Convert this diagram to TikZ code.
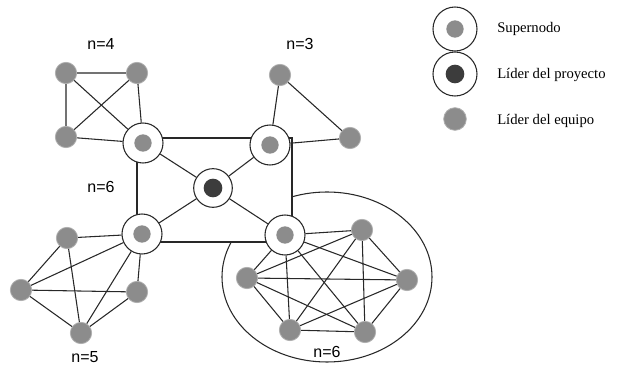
\documentclass[tikz,border=0pt]{standalone}
\usepackage{fontspec}
\setmainfont{Liberation Serif}
\setsansfont{Liberation Sans}
\usepackage{tikz}
\usetikzlibrary{calc}

\definecolor{nodegray}{RGB}{140,140,140}
\definecolor{darkcore}{RGB}{60,60,60}
\definecolor{edgegray}{RGB}{40,40,40}

\tikzset{
  member/.style={circle,fill=nodegray,draw=nodegray!70,line width=0.6pt,minimum size=16pt,inner sep=0pt},
  supernode/.style={circle,draw=edgegray,fill=white,line width=0.8pt,minimum size=30pt,inner sep=0pt,
    path picture={\fill[nodegray] (path picture bounding box.center) circle (6.5pt);}},
  leader/.style={circle,draw=edgegray,fill=white,line width=0.8pt,minimum size=29pt,inner sep=0pt,
    path picture={\fill[darkcore] (path picture bounding box.center) circle (7pt);}},
  link/.style={draw=edgegray,line width=0.8pt},
  grouplabel/.style={font=\sffamily\fontsize{12}{14}\selectfont,inner sep=0.75pt},
  legendtext/.style={font=\fontsize{11}{13}\selectfont,anchor=west,inner sep=0.75pt}
}

\begin{document}
\begin{tikzpicture}[x=0.75pt,y=0.75pt,yscale=-1,xscale=1]
            \useasboundingbox (0,0) rectangle (629,373);

            %Shape: Ellipse round the group of six
            \draw [link] (327,277) ellipse (105 and 85);

            %Shape: Square between the supernodes
            \coordinate (tl) at (137,138);
            \coordinate (br) at (292,242);
            \filldraw [link,fill=white] (tl) rectangle (br);

            % supernodes and leader
            \node [supernode] (s1) at (143,143) {};
            \node [supernode] (s2) at (270,145) {};
            \node [supernode] (s3) at (142,234) {};
            \node [supernode] (s4) at (285,235) {};
            \node [leader] (c) at (213,188) {};
            \draw [link] (c) -- (s1) (c) -- (s2) (c) -- (s3) (c) -- (s4);

            % group n=4
            \node [member] (a1) at (66,73) {};
            \node [member] (a2) at (137,73) {};
            \node [member] (a3) at (66,137) {};
            \draw [link] (a1) -- (a2) (a1) -- (a3) (a2) -- (s1) (a3) -- (s1) (a1) -- (s1) (a2) -- (a3);

            % group n=3
            \node [member] (b1) at (280,75) {};
            \node [member] (b2) at (350,138) {};
            \draw [link] (b1) -- (s2) (b1) -- (b2) (s2) -- (b2);

            % group n=5
            \node [member] (d1) at (67,238) {};
            \node [member] (d2) at (21,290) {};
            \node [member] (d3) at (137,292) {};
            \node [member] (d4) at (81,333) {};
            \draw [link] (d1) -- (s3) (d1) -- (d2) (d1) -- (d4);
            \draw [link] (d2) -- (s3) (d2) -- (d3) (d2) -- (d4);
            \draw [link] (s3) -- (d3) (s3) -- (d4) (d3) -- (d4);

            % group n=6
            \node [member] (e1) at (362,230) {};
            \node [member] (e2) at (247,278) {};
            \node [member] (e3) at (407,280) {};
            \node [member] (e4) at (290,330) {};
            \node [member] (e5) at (365,332) {};
            \foreach \u/\v in {s4/e1,s4/e2,s4/e3,s4/e4,s4/e5,e1/e2,e1/e3,e1/e4,e1/e5,e2/e3,e2/e4,e2/e5,e3/e4,e3/e5,e4/e5}
              \draw [link] (\u) -- (\v);

            % Text Node
            \node [grouplabel] (t4) at (101,44) {n=4};
            % Text Node
            \node [grouplabel] (t3) at (300,44) {n=3};
            % Text Node
            \node [grouplabel] (t6a) at (101,187) {n=6};
            % Text Node
            \node [grouplabel] (t5) at (85,357) {n=5};
            % Text Node
            \node [grouplabel] (t6b) at (327,352) {n=6};

            % legend
            \node [supernode,minimum size=33pt] (ls) at (455,29) {};
            \node [leader,minimum size=33pt] (ll) at (455,74) {};
            \node [member,minimum size=17pt] (lm) at (455,119) {};
            \node [legendtext] (lst) at (496,29) {Supernodo};
            \node [legendtext] (llt) at (496,75) {Líder del proyecto};
            \node [legendtext] (lmt) at (496,121) {Líder del equipo};
        \end{tikzpicture}
\end{document}
